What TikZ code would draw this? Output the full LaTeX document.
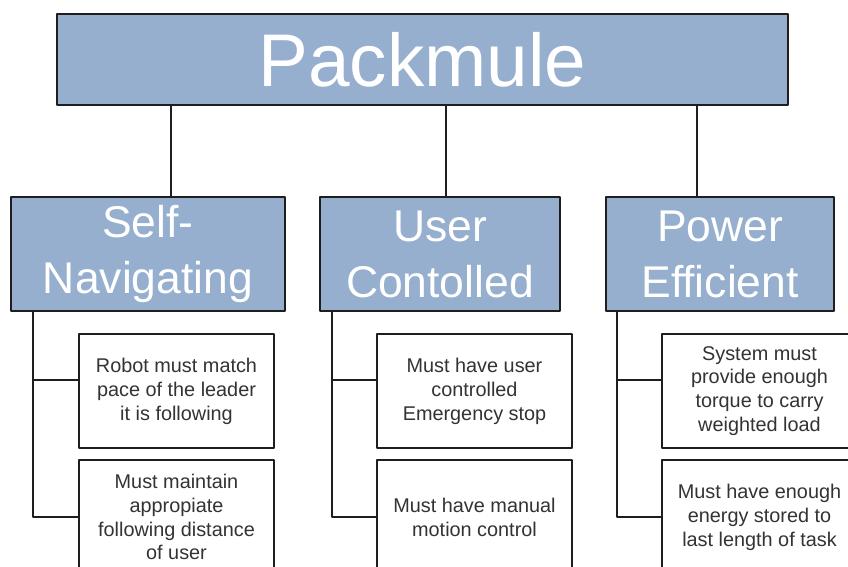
\documentclass[tikz,border=0pt]{standalone}
\usepackage{fontspec}
\setmainfont{Liberation Sans}
\definecolor{boxblue}{RGB}{150,175,207}
\definecolor{edge}{RGB}{30,30,30}
\begin{document}
\begin{tikzpicture}[x=0.02cm, y=-0.02cm, line join=round,
	head/.style={draw=edge, fill=boxblue, text=white, inner sep=0pt, outer sep=0pt, align=center},
	item/.style={draw=edge, line width=0.9pt, fill=white, text=black!80, inner sep=0pt, outer sep=0pt,
		minimum width=3.9cm, minimum height=2.28cm, align=center,
		font=\fontsize{11.3}{13.6}\selectfont},
	link/.style={draw=edge, line width=1.1pt}]
		%	\draw[color=gray!50,dashed] (0,0) grid (848,567);
		\useasboundingbox (0,0) rectangle (848,567);
		\clip (0,0) rectangle (848,567);
		\node[head, line width=1.6pt, minimum width=14.62cm, minimum height=1.82cm, font=\fontsize{42.5}{48}\selectfont] (root) at (422.5,59.5) {Packmule};
		\node[head, line width=1.1pt, minimum width=5.48cm, minimum height=2.28cm, font=\fontsize{25.3}{31.8}\selectfont] (nav) at (148,254) {Self-\\Navigating};
		\node[head, line width=1.1pt, minimum width=4.8cm, minimum height=2.28cm, font=\fontsize{25.3}{31.8}\selectfont] (user) at (440,254) {User\\Contolled};
		\node[head, line width=1.1pt, minimum width=4.56cm, minimum height=2.28cm, font=\fontsize{25.3}{31.8}\selectfont] (power) at (720,254) {Power\\Efficient};
		\node[item] (nav1) at (176.5,391) {Robot must match\\pace of the leader\\it is following};
		\node[item] (nav2) at (176.5,517) {Must maintain\\appropiate\\following distance\\of user};
		\node[item] (user1) at (474.5,391) {Must have user\\controlled\\Emergency stop};
		\node[item] (user2) at (474.5,517) {Must have manual\\motion control};
		\node[item] (power1) at (759.5,391) {System must\\provide enough\\torque to carry\\weighted load};
		\node[item] (power2) at (759.5,517) {Must have enough\\energy stored to\\last length of task};
		\coordinate (c1) at (171,0);
		\coordinate (c2) at (446,0);
		\coordinate (c3) at (697,0);
		\draw[link] (root.south -| c1) -- (nav.north -| c1);
		\draw[link] (root.south -| c2) -- (user.north -| c2);
		\draw[link] (root.south -| c3) -- (power.north -| c3);
		\coordinate (t1) at (33,311);
		\coordinate (t2) at (332,311);
		\coordinate (t3) at (617,311);
		\draw[link] (t1) |- ([yshift=0.22cm]nav1.west);
		\draw[link] (t1) |- (nav2.west);
		\draw[link] (t2) |- ([yshift=0.22cm]user1.west);
		\draw[link] (t2) |- (user2.west);
		\draw[link] (t3) |- ([yshift=0.22cm]power1.west);
		\draw[link] (t3) |- (power2.west);
\end{tikzpicture}
\end{document}
